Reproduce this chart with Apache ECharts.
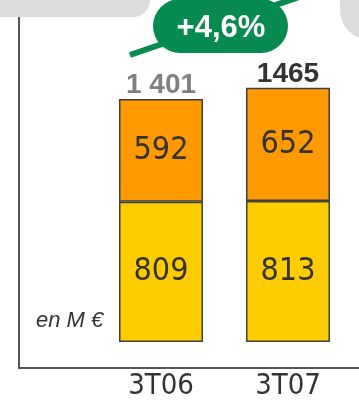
<!DOCTYPE html>
<html><head><meta charset="utf-8">
<script src="https://cdn.jsdelivr.net/npm/echarts@6/dist/echarts.min.js"></script>
<style>html,body{margin:0;padding:0;background:#fff}#c{width:359px;height:402px}</style>
</head><body><div id="c"></div>
<script>
var categories = ['3T06', '3T07'];
var lowerValues = [809, 813];
var upperValues = [592, 652];
var totals = [1401, 1465];
var totalLabels = ['1 401', '1465'];
var totalColors = ['#808080', '#333333'];
var growthLabel = '+4,6%';
var unitLabel = 'en M €';

var chart = echarts.init(document.getElementById('c'));
var narrow = '"DejaVu Sans Condensed", "Roboto Condensed", Roboto, sans-serif';
var barBorder = { borderColor: '#404040', borderWidth: 1.5 };

chart.setOption({
  animation: false,
  grid: [
    { left: 19, right: 0, top: 17, bottom: 34, outerBoundsMode: 'none', containLabel: false },
    { left: 97.5, right: 7.5, top: 64.4, bottom: 60, outerBoundsMode: 'none', containLabel: false }
  ],
  xAxis: [
    { gridIndex: 0, type: 'value', min: 0, max: 1, axisLine: { show: true, onZero: false, lineStyle: { color: '#555', width: 2 } }, axisTick: { show: false }, axisLabel: { show: false }, splitLine: { show: false } },
    { gridIndex: 1, type: 'category', data: categories, axisLine: { show: false }, axisTick: { show: false },
      axisLabel: { margin: 30, fontFamily: narrow, fontSize: 29, color: '#333' } }
  ],
  yAxis: [
    { gridIndex: 0, type: 'value', min: 0, max: 1, axisLine: { show: true, onZero: false, lineStyle: { color: '#555', width: 2 } }, axisTick: { show: false }, axisLabel: { show: false }, splitLine: { show: false } },
    { gridIndex: 1, type: 'value', min: 0, max: 1600, show: false }
  ],
  series: [
    { type: 'bar', xAxisIndex: 1, yAxisIndex: 1, barWidth: 84, z: 1, silent: true,
      data: totals.map(function (v, i) {
        return { value: v, label: { formatter: totalLabels[i], color: totalColors[i] } };
      }),
      itemStyle: { color: 'rgba(0,0,0,0)' },
      label: { show: true, position: 'top', distance: 0, fontFamily: 'Liberation Sans, Arial, sans-serif', fontWeight: 'bold', fontSize: 28 } },
    { type: 'bar', xAxisIndex: 1, yAxisIndex: 1, stack: 's', barWidth: 84, barGap: '-100%', z: 3, data: lowerValues,
      itemStyle: Object.assign({ color: '#ffcc00' }, barBorder),
      label: { show: true, position: 'inside', fontFamily: narrow, fontSize: 32, color: '#333' } },
    { type: 'bar', xAxisIndex: 1, yAxisIndex: 1, stack: 's', barWidth: 84, z: 3, data: upperValues,
      itemStyle: Object.assign({ color: '#ff9900' }, barBorder),
      label: { show: true, position: 'inside', fontFamily: narrow, fontSize: 32, color: '#333' } }
  ],
  graphic: [
    { type: 'rect', shape: { x: -30, y: -40, width: 180, height: 57, r: 17 }, style: { fill: '#dcdcdc' }, z: 10 },
    { type: 'rect', shape: { x: 340, y: -40, width: 80, height: 80, r: 30 }, style: { fill: '#dcdcdc' }, z: 10 },
    { type: 'polyline', shape: { points: [[130, 55], [302, -4]] }, style: { stroke: '#078a50', lineWidth: 6, fill: null }, z: 11 },
    { type: 'rect', shape: { x: 153, y: -1, width: 135, height: 54, r: 27 }, style: { fill: '#078a50' }, z: 12 },
    { type: 'text', x: 221, y: 28, z: 13, style: { text: growthLabel, fill: '#fff', font: 'bold 31px "Liberation Sans", Arial, sans-serif', textAlign: 'center', textVerticalAlign: 'middle' } },
    { type: 'text', x: 36, y: 321, z: 13, style: { text: unitLabel, fill: '#333', font: 'italic 22px "Liberation Sans", Arial, sans-serif', textAlign: 'left', textVerticalAlign: 'middle' } }
  ]
});
</script></body></html>
